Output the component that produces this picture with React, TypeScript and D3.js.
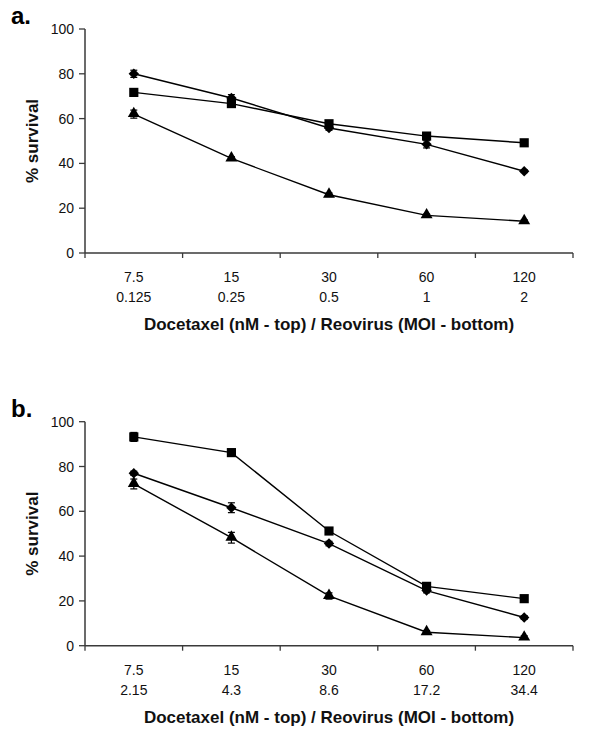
import React from "react";
import * as d3 from "d3";

const topLabels = ["7.5", "15", "30", "60", "120"];
const bottomLabelsA = ["0.125", "0.25", "0.5", "1", "2"];
const bottomLabelsB = ["2.15", "4.3", "8.6", "17.2", "34.4"];
const yTicks = [0, 20, 40, 60, 80, 100];

// Panel a
const aDiamond = [80, 69.2, 55.8, 48.5, 36.5];
const aDiamondErr = [1.6, 1.5, 1.0, 1.6, 0.6];
const aSquare = [71.7, 66.7, 57.7, 52.2, 49.2];
const aSquareErr = [0.8, 0.9, 0.7, 0.6, 0.6];
const aTriangle = [62, 42.2, 26, 16.8, 14.2];
const aTriangleErr = [1.8, 0.8, 0.8, 0.6, 0.6];

// Panel b
const bSquare = [93.2, 86.2, 51.2, 26.5, 21];
const bSquareErr = [2.0, 0.9, 1.5, 1.5, 0.8];
const bDiamond = [77, 61.6, 45.6, 24.6, 12.6];
const bDiamondErr = [0.9, 2.2, 1.0, 1.0, 0.8];
const bTriangle = [72.2, 48.2, 22.2, 6, 3.6];
const bTriangleErr = [2.2, 2.4, 1.4, 0.8, 0.8];

type Series = { values: number[]; errs: number[]; shape: "diamond" | "square" | "triangle" };

const X0 = 85;
const X1 = 573;
const FONT = "Arial, 'Liberation Sans', Helvetica, sans-serif";

function Marker({ shape, x, y }: { shape: string; x: number; y: number }) {
  if (shape === "square") {
    const p = d3.symbol(d3.symbolSquare, 84)()!;
    return <path d={p} transform={`translate(${x},${y})`} fill="#000" />;
  }
  if (shape === "diamond") {
    const p = d3.symbol(d3.symbolSquare, 54)()!;
    return <path d={p} transform={`translate(${x},${y}) rotate(45)`} fill="#000" />;
  }
  const p = d3.symbol(d3.symbolTriangle, 62)()!;
  return <path d={p} transform={`translate(${x},${y - 0.5})`} fill="#000" />;
}

function Panel({
  label,
  top,
  bottom,
  labelBaseline,
  bottomLabels,
  series,
}: {
  label: string;
  top: number;
  bottom: number;
  labelBaseline: number;
  bottomLabels: string[];
  series: Series[];
}) {
  const x = d3.scaleBand<string>().domain(topLabels).range([X0, X1]).padding(0);
  const y = d3.scaleLinear().domain([0, 100]).range([bottom, top]);
  const cx = (i: number) => (x(topLabels[i]) as number) + x.bandwidth() / 2;
  const line = d3
    .line<number>()
    .x((_, i) => cx(i))
    .y((v) => y(v));
  const boundaries = topLabels.map((c) => x(c) as number).concat([X1]);
  const axisColor = "#3a3a3a";
  return (
    <g>
      <text x={11} y={labelBaseline} fontFamily={FONT} fontWeight="bold" fontSize={24} fill="#000">
        {label}
      </text>
      {/* y axis */}
      <line x1={X0} x2={X0} y1={y(100)} y2={y(0)} stroke={axisColor} strokeWidth={1.5} />
      {yTicks.map((t) => (
        <g key={t}>
          <line x1={X0 - 6} x2={X0} y1={y(t)} y2={y(t)} stroke={axisColor} strokeWidth={1.3} />
          <text
            x={X0 - 11}
            y={y(t)}
            dy="0.36em"
            textAnchor="end"
            fontFamily={FONT}
            fontSize={14}
            fill="#111"
          >
            {t}
          </text>
        </g>
      ))}
      {/* x axis */}
      <line x1={X0} x2={X1} y1={y(0)} y2={y(0)} stroke={axisColor} strokeWidth={1.5} />
      {boundaries.map((b, i) => (
        <line key={i} x1={b} x2={b} y1={y(0)} y2={y(0) + 5} stroke={axisColor} strokeWidth={1.3} />
      ))}
      {topLabels.map((t, i) => (
        <text key={t} x={cx(i)} y={y(0) + 29} textAnchor="middle" fontFamily={FONT} fontSize={14} fill="#111">
          {t}
        </text>
      ))}
      {bottomLabels.map((t, i) => (
        <text key={t} x={cx(i)} y={y(0) + 49} textAnchor="middle" fontFamily={FONT} fontSize={14} fill="#111">
          {t}
        </text>
      ))}
      <text
        x={(X0 + X1) / 2}
        y={y(0) + 77}
        textAnchor="middle"
        fontFamily={FONT}
        fontWeight="bold"
        fontSize={17}
        fill="#111"
      >
        Docetaxel (nM - top) / Reovirus (MOI - bottom)
      </text>
      <text
        transform={`translate(37.5,${(y(0) + y(100)) / 2}) rotate(-90)`}
        textAnchor="middle"
        fontFamily={FONT}
        fontWeight="bold"
        fontSize={17}
        fill="#111"
      >
        % survival
      </text>
      {/* series */}
      {series.map((s, si) => (
        <g key={si}>
          <path d={line(s.values)!} fill="none" stroke="#000" strokeWidth={1.4} />
          {s.values.map((v, i) => (
            <g key={i}>
              <line x1={cx(i)} x2={cx(i)} y1={y(v - s.errs[i])} y2={y(v + s.errs[i])} stroke="#000" strokeWidth={1.2} />
              <line x1={cx(i) - 3.5} x2={cx(i) + 3.5} y1={y(v + s.errs[i])} y2={y(v + s.errs[i])} stroke="#000" strokeWidth={1.2} />
              <line x1={cx(i) - 3.5} x2={cx(i) + 3.5} y1={y(v - s.errs[i])} y2={y(v - s.errs[i])} stroke="#000" strokeWidth={1.2} />
              <Marker shape={s.shape} x={cx(i)} y={y(v)} />
            </g>
          ))}
        </g>
      ))}
    </g>
  );
}

export default function App() {
  return (
    <svg
      width={600}
      height={741}
      style={{ position: "absolute", left: 0, top: 0, background: "#fff" }}
    >
      <rect width={600} height={741} fill="#fff" />
      <Panel
        label="a."
        top={29}
        bottom={253}
        labelBaseline={24}
        bottomLabels={bottomLabelsA}
        series={[
          { values: aDiamond, errs: aDiamondErr, shape: "diamond" },
          { values: aSquare, errs: aSquareErr, shape: "square" },
          { values: aTriangle, errs: aTriangleErr, shape: "triangle" },
        ]}
      />
      <Panel
        label="b."
        top={421.7}
        bottom={645.7}
        labelBaseline={417}
        bottomLabels={bottomLabelsB}
        series={[
          { values: bSquare, errs: bSquareErr, shape: "square" },
          { values: bDiamond, errs: bDiamondErr, shape: "diamond" },
          { values: bTriangle, errs: bTriangleErr, shape: "triangle" },
        ]}
      />
    </svg>
  );
}
